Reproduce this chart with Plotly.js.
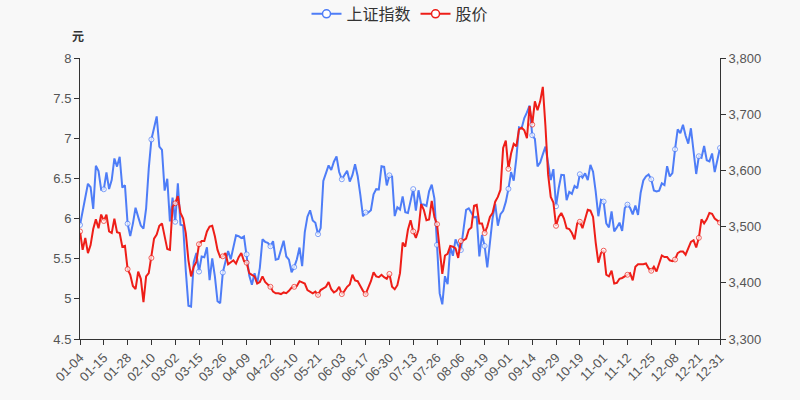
<!DOCTYPE html>
<html>
<head>
<meta charset="utf-8">
<script src="https://cdn.plot.ly/plotly-3.0.1.min.js"></script>
<style>html,body{margin:0;padding:0;background:#f8f8f8;}#chart{width:800px;height:400px;}</style>
</head>
<body>
<div id="chart"></div>
<script>
const dates = [
"01-04","01-05","01-06","01-07","01-08","01-11","01-12","01-13","01-14","01-15","01-18","01-19","01-20","01-21","01-22","01-25","01-26","01-27","01-28","01-29",
"02-01","02-02","02-03","02-04","02-05","02-08","02-09","02-10","02-18","02-19","02-22","02-23","02-24","02-25","02-26",
"03-01","03-02","03-03","03-04","03-05","03-08","03-09","03-10","03-11","03-12","03-15","03-16","03-17","03-18","03-19","03-22","03-23","03-24","03-25","03-26","03-29","03-30","03-31",
"04-01","04-02","04-06","04-07","04-08","04-09","04-12","04-13","04-14","04-15","04-16","04-19","04-20","04-21","04-22","04-23","04-26","04-27","04-28","04-29","04-30",
"05-06","05-07","05-10","05-11","05-12","05-13","05-14","05-17","05-18","05-19","05-20","05-21","05-24","05-25","05-26","05-27","05-28","05-31",
"06-01","06-02","06-03","06-04","06-07","06-08","06-09","06-10","06-11","06-15","06-16","06-17","06-18","06-21","06-22","06-23","06-24","06-25","06-28","06-29","06-30",
"07-01","07-02","07-05","07-06","07-07","07-08","07-09","07-12","07-13","07-14","07-15","07-16","07-19","07-20","07-21","07-22","07-23","07-26","07-27","07-28","07-29","07-30",
"08-02","08-03","08-04","08-05","08-06","08-09","08-10","08-11","08-12","08-13","08-16","08-17","08-18","08-19","08-20","08-23","08-24","08-25","08-26","08-27","08-30","08-31",
"09-01","09-02","09-03","09-06","09-07","09-08","09-09","09-10","09-13","09-14","09-15","09-16","09-17","09-22","09-23","09-24","09-27","09-28","09-29","09-30",
"10-08","10-11","10-12","10-13","10-14","10-15","10-18","10-19","10-20","10-21","10-22","10-25","10-26","10-27","10-28","10-29",
"11-01","11-02","11-03","11-04","11-05","11-08","11-09","11-10","11-11","11-12","11-15","11-16","11-17","11-18","11-19","11-22","11-23","11-24","11-25","11-26","11-29","11-30",
"12-01","12-02","12-03","12-06","12-07","12-08","12-09","12-10","12-13","12-14","12-15","12-16","12-17","12-20","12-21","12-22","12-23","12-24","12-27","12-28","12-29","12-30","12-31"
];

const indexValues = [
3502.96,3528.68,3550.88,3576.20,3570.11,3531.50,3608.34,3598.65,3565.90,3566.38,3596.22,3566.79,3583.09,3621.26,3606.75,3624.24,3569.43,3573.34,3505.18,3483.07,
3505.31,3533.68,3517.31,3501.86,3496.33,3532.44,3603.49,3655.09,3675.36,3696.17,3642.44,3636.36,3564.08,3585.05,3509.08,
3551.40,3508.59,3576.90,3503.49,3501.99,3421.41,3359.29,3357.74,3436.83,3453.08,3419.95,3446.73,3445.55,3463.07,3404.66,3443.44,3411.51,3367.06,3363.59,3418.33,3435.30,3456.68,3441.91,
3466.33,3484.39,3482.85,3479.63,3482.55,3450.68,3412.95,3396.47,3416.83,3398.99,3426.62,3477.55,3472.94,3471.00,3465.11,3474.17,3441.17,3442.61,3457.07,3474.90,3446.86,
3441.28,3418.87,3427.99,3441.85,3462.75,3429.54,3490.38,3517.62,3529.01,3510.96,3506.94,3486.56,3497.28,3581.34,3593.36,3608.85,3600.78,3615.48,
3624.71,3597.14,3584.22,3591.84,3599.54,3580.11,3591.40,3610.86,3589.75,3556.56,3518.33,3525.10,3525.10,3529.18,3557.41,3566.65,3566.22,3607.56,3606.37,3573.18,3591.20,
3588.78,3518.76,3534.32,3530.26,3553.72,3525.50,3524.09,3547.84,3566.73,3528.50,3564.59,3539.30,3539.12,3536.79,3562.66,3574.73,3550.40,3467.44,3381.18,3361.59,3411.72,3397.36,
3464.29,3447.99,3477.22,3466.56,3458.23,3494.63,3529.93,3532.62,3524.74,3516.30,3517.34,3446.98,3485.29,3465.55,3427.33,3477.13,3514.47,3540.38,3501.66,3522.16,3528.15,3543.94,
3567.10,3597.04,3581.73,3621.86,3676.59,3675.19,3693.13,3703.11,3715.37,3662.60,3656.22,3607.09,3613.97,3628.49,3642.22,3613.07,3582.83,3602.22,3536.29,3568.17,
3592.17,3591.71,3546.94,3561.76,3558.28,3572.37,3568.14,3593.15,3587.00,3594.78,3582.60,3609.86,3597.64,3562.31,3518.42,3547.34,
3544.48,3505.63,3498.54,3526.87,3491.57,3498.63,3507.00,3492.46,3532.79,3539.10,3533.30,3521.79,3537.37,3520.71,3560.37,3582.08,3589.09,3592.70,3584.18,3564.09,3562.70,3563.89,
3576.89,3573.84,3607.43,3589.31,3595.09,3637.57,3673.04,3666.35,3681.08,3661.53,3647.63,3675.02,3632.36,3593.60,3625.13,3622.62,3643.34,3618.05,3615.97,3630.11,3597.00,3619.19,3639.78
];

const priceValues = [
5.84,5.61,5.76,5.57,5.67,5.87,5.99,5.88,6.05,5.97,6.05,5.84,5.82,6.00,5.83,5.82,5.65,5.66,5.37,5.30,
5.16,5.12,5.34,5.25,4.96,5.28,5.32,5.51,5.75,5.80,5.91,5.94,5.79,5.62,5.61,
6.15,6.19,6.28,6.07,6.00,5.82,5.48,5.28,5.40,5.46,5.68,5.72,5.72,5.84,5.90,5.91,5.78,5.61,5.52,5.53,5.57,5.43,5.46,
5.48,5.44,5.52,5.57,5.47,5.45,5.32,5.30,5.28,5.19,5.21,5.28,5.21,5.18,5.15,5.09,5.07,5.07,5.06,5.08,5.07,
5.10,5.14,5.15,5.16,5.22,5.20,5.19,5.11,5.09,5.07,5.09,5.05,5.11,5.13,5.15,5.21,5.12,5.08,
5.10,5.15,5.06,5.10,5.15,5.18,5.30,5.23,5.22,5.16,5.10,5.06,5.13,5.22,5.33,5.28,5.27,5.30,5.27,5.25,5.31,
5.15,5.12,5.17,5.32,5.70,5.65,5.86,5.98,5.84,5.76,5.86,6.18,6.11,5.98,5.99,6.22,6.02,5.93,5.65,5.31,5.54,5.56,
5.66,5.65,5.63,5.51,5.72,5.73,5.75,5.86,5.89,6.16,6.17,5.94,5.94,5.82,5.90,6.02,6.07,6.21,6.27,6.36,6.88,6.97,
6.62,6.81,6.93,6.90,7.11,7.13,7.10,7.00,7.40,7.17,7.46,7.35,7.46,7.64,7.15,6.55,6.27,6.20,5.91,6.02,
6.07,6.00,5.88,5.87,5.82,5.74,5.94,5.96,5.88,6.00,6.11,6.10,6.02,5.70,5.45,5.57,
5.60,5.30,5.28,5.35,5.19,5.20,5.25,5.26,5.28,5.30,5.32,5.23,5.40,5.43,5.43,5.43,5.44,5.38,5.35,5.40,5.34,5.44,
5.54,5.52,5.52,5.48,5.47,5.49,5.57,5.59,5.59,5.55,5.63,5.71,5.73,5.64,5.76,5.99,5.94,5.99,6.07,6.06,6.00,5.98,5.95
];

const seriesNames = ["上证指数", "股价"];
const colors = ["#4e7df7", "#ee1e18"];
const labelStep = 9;

const last = dates.length - 1;
const tickIdx = dates.map((d, i) => i).filter(i => i % labelStep === 0 || i === last);
const tickLabels = tickIdx.map(i => dates[i]);
const markerSizes = dates.map((d, i) => (i % labelStep === 0 || i === last) ? 5 : 0);

const font = "'Liberation Sans', Arial, 'Noto Sans CJK SC', sans-serif";

function lineTrace(y, name, color, axis) {
  return {
    x: dates, y: y, name: name, yaxis: axis, type: 'scatter', mode: 'lines+markers',
    line: {color: color, width: 2},
    marker: {size: markerSizes, color: '#ffffff', line: {color: color, width: 1}},
    showlegend: false, hoverinfo: 'x+y'
  };
}
function legendTrace(name, color, axis) {
  return {
    x: [null], y: [null], name: name, yaxis: axis, type: 'scatter', mode: 'lines+markers',
    line: {color: color, width: 2},
    marker: {size: 8, color: '#ffffff', line: {color: color, width: 1.5}},
    showlegend: true
  };
}

const data = [
  lineTrace(indexValues, seriesNames[0], colors[0], 'y'),
  lineTrace(priceValues, seriesNames[1], colors[1], 'y2'),
  legendTrace(seriesNames[0], colors[0], 'y'),
  legendTrace(seriesNames[1], colors[1], 'y2')
];

const layout = {
  width: 800, height: 400,
  paper_bgcolor: '#f8f8f8', plot_bgcolor: '#f8f8f8',
  margin: {l: 80, r: 80, t: 58, b: 61, autoexpand: false},
  font: {family: font, size: 12, color: '#666'},
  showlegend: true,
  legend: {orientation: 'h', x: 0.5, xanchor: 'center', y: 1.157, yanchor: 'middle',
           font: {size: 16, color: '#333'}, itemwidth: 30, bgcolor: 'rgba(0,0,0,0)'},
  xaxis: {
    type: 'category', range: [0, last], tickmode: 'array', tickvals: tickIdx.map(i => dates[i]), ticktext: tickLabels,
    tickangle: -45, ticks: 'outside', ticklen: 5, tickcolor: '#333', showline: true, linecolor: '#333', linewidth: 1,
    showgrid: false, zeroline: false, tickfont: {size: 13, color: '#555'}
  },
  yaxis: {
    side: 'right', range: [3300, 3800], dtick: 100, tick0: 3300, tickformat: ',',
    ticks: 'outside', ticklen: 5, tickcolor: '#333', showline: true, linecolor: '#333',
    showgrid: false, zeroline: false, tickfont: {size: 13, color: '#555'}
  },
  yaxis2: {
    side: 'left', overlaying: 'y', range: [4.5, 8], dtick: 0.5, tick0: 4.5,
    ticks: 'outside', ticklen: 5, tickcolor: '#333', showline: true, linecolor: '#333',
    showgrid: false, zeroline: false, tickfont: {size: 13, color: '#555'}
  },
  annotations: [{
    text: '<b>元</b>', xref: 'paper', yref: 'paper', x: -0.003, y: 1.075, xanchor: 'center', yanchor: 'middle',
    showarrow: false, font: {size: 12, color: '#333'}
  }]
};

Plotly.newPlot('chart', data, layout, {displayModeBar: false, staticPlot: true});
</script>
</body>
</html>
